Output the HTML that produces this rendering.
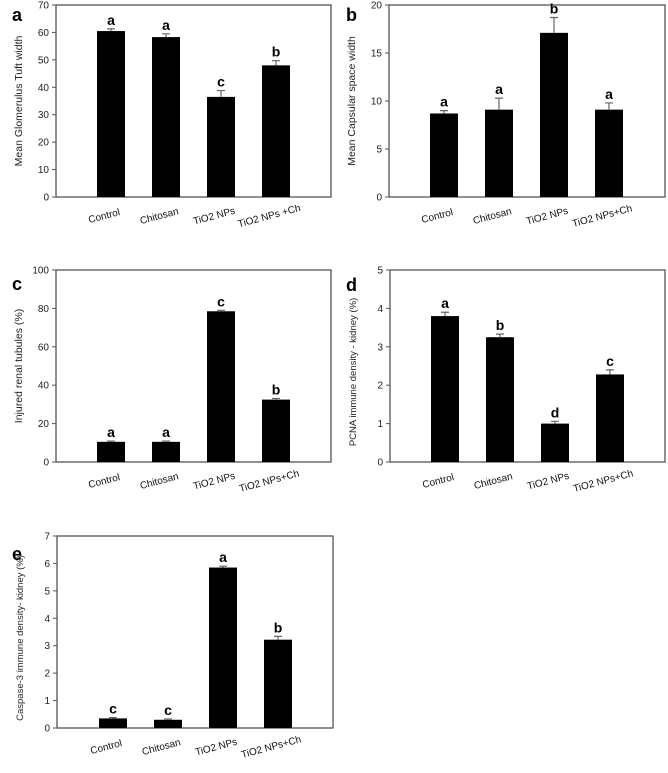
<!DOCTYPE html>
<html><head><meta charset="utf-8"><style>
html,body{margin:0;padding:0;background:#fff;}
svg{display:block;font-family:"Liberation Sans",Arial,sans-serif;}
</style></head><body>
<svg id="fig" width="668" height="773" viewBox="0 0 668 773" xmlns="http://www.w3.org/2000/svg"></svg>
<script>
const categories = ["Control","Chitosan","TiO2 NPs","TiO2 NPs+Ch"];
const valuesA = [60.5, 58.3, 36.5, 48.0];
const errorsA = [0.8, 1.2, 2.3, 1.7];
const lettersA = ["a","a","c","b"];
const ticksA = [0,10,20,30,40,50,60,70];
const valuesB = [8.7, 9.1, 17.1, 9.1];
const errorsB = [0.3, 1.2, 1.6, 0.7];
const lettersB = ["a","a","b","a"];
const ticksB = [0,5,10,15,20];
const valuesC = [10.5, 10.5, 78.5, 32.5];
const errorsC = [0.4, 0.4, 0.5, 0.6];
const lettersC = ["a","a","c","b"];
const ticksC = [0,20,40,60,80,100];
const valuesD = [3.8, 3.25, 1.0, 2.28];
const errorsD = [0.1, 0.08, 0.06, 0.12];
const lettersD = ["a","b","d","c"];
const ticksD = [0,1,2,3,4,5];
const valuesE = [0.35, 0.3, 5.85, 3.22];
const errorsE = [0.03, 0.03, 0.05, 0.12];
const lettersE = ["c","c","a","b"];
const ticksE = [0,1,2,3,4,5,6,7];

const NS = "http://www.w3.org/2000/svg";
const svg = document.getElementById("fig");
function mk(tag, attrs, parent, text){
  const e = document.createElementNS(NS, tag);
  for (const k in attrs) e.setAttribute(k, attrs[k]);
  if (text !== undefined) e.textContent = text;
  (parent||svg).appendChild(e);
  return e;
}
function panel(id, letter, lx, ly, L, T, R, B, barOff, vals, errs, lets, ticks, ytitle, xlabels, tfs, tdy){
  const g = mk("g", {});
  
  
  const max = ticks[ticks.length-1];
  const y = v => B - (v/max)*(B-T);
  const pl = mk("text", {x:lx, y:ly, "font-size":18, "font-weight":"bold"}, g, letter);
  
  
  const fr = mk("rect", {x:L, y:T, width:R-L, height:B-T, fill:"none", stroke:"#555", "stroke-width":1.3}, g);
  
  
  ticks.forEach(t => {
    const tl = mk("line", {x1:L-4, x2:L, y1:y(t), y2:y(t), stroke:"#555"}, g);
    
    
    const tx = mk("text", {x:L-7, y:y(t)+3.5, "font-size":10, "text-anchor":"end", fill:"#222"}, g, String(t));
    
    
  });
  const yt = mk("text", {x:0, y:0, "font-size":tfs, "text-anchor":"middle", fill:"#222",
    transform:`translate(${L-34},${(T+B)/2+tdy}) rotate(-90)`}, g, ytitle);
  
  
  const bw = 28, step = 55;
  vals.forEach((v,i) => {
    const x0 = L + barOff + i*step;
    const cx = x0 + bw/2;
    const r = mk("rect", {x:x0, y:y(v), width:bw, height:B-y(v), fill:"#000"}, g);
    
    
    const ye = y(v+errs[i]);
    const el = mk("path", {d:`M${cx} ${y(v)}V${ye}M${cx-4} ${ye}H${cx+4}`, stroke:"#666", "stroke-width":1.2, fill:"none"}, g);
    
    
    const lt = mk("text", {x:cx, y:ye-4, "font-size":14, "font-weight":"bold", "text-anchor":"middle"}, g, lets[i]);
    
    
    const xl = mk("text", {x:0, y:0, "font-size":10, "text-anchor":"middle", fill:"#111",
      transform:`translate(${cx-6},${B+22}) rotate(-15)`}, g, xlabels[i]);
    
    
  });
}
const xlA = ["Control","Chitosan","TiO2 NPs","TiO2 NPs +Ch"];
panel("a","a",12,21,56,5,331,197,41,valuesA,errorsA,lettersA,ticksA,"Mean Glomerulus Tuft width",xlA,10.5,0);
panel("b","b",346,21,389,5,665,197,41,valuesB,errorsB,lettersB,ticksB,"Mean Capsular space width",categories,10.5,0);
panel("c","c",12,290,56,270,331,462,41,valuesC,errorsC,lettersC,ticksC,"Injured renal tubules (%)",categories,10.5,0);
panel("d","d",346,291,390,270,665,462,41,valuesD,errorsD,lettersD,ticksD,"PCNA immune density - kidney (%)",categories,9.5,6);
panel("e","e",12,560,57,536,333,728,42,valuesE,errorsE,lettersE,ticksE,"Caspase-3 immune density- kidney (%)",categories,9.5,6);
</script>
</body></html>
